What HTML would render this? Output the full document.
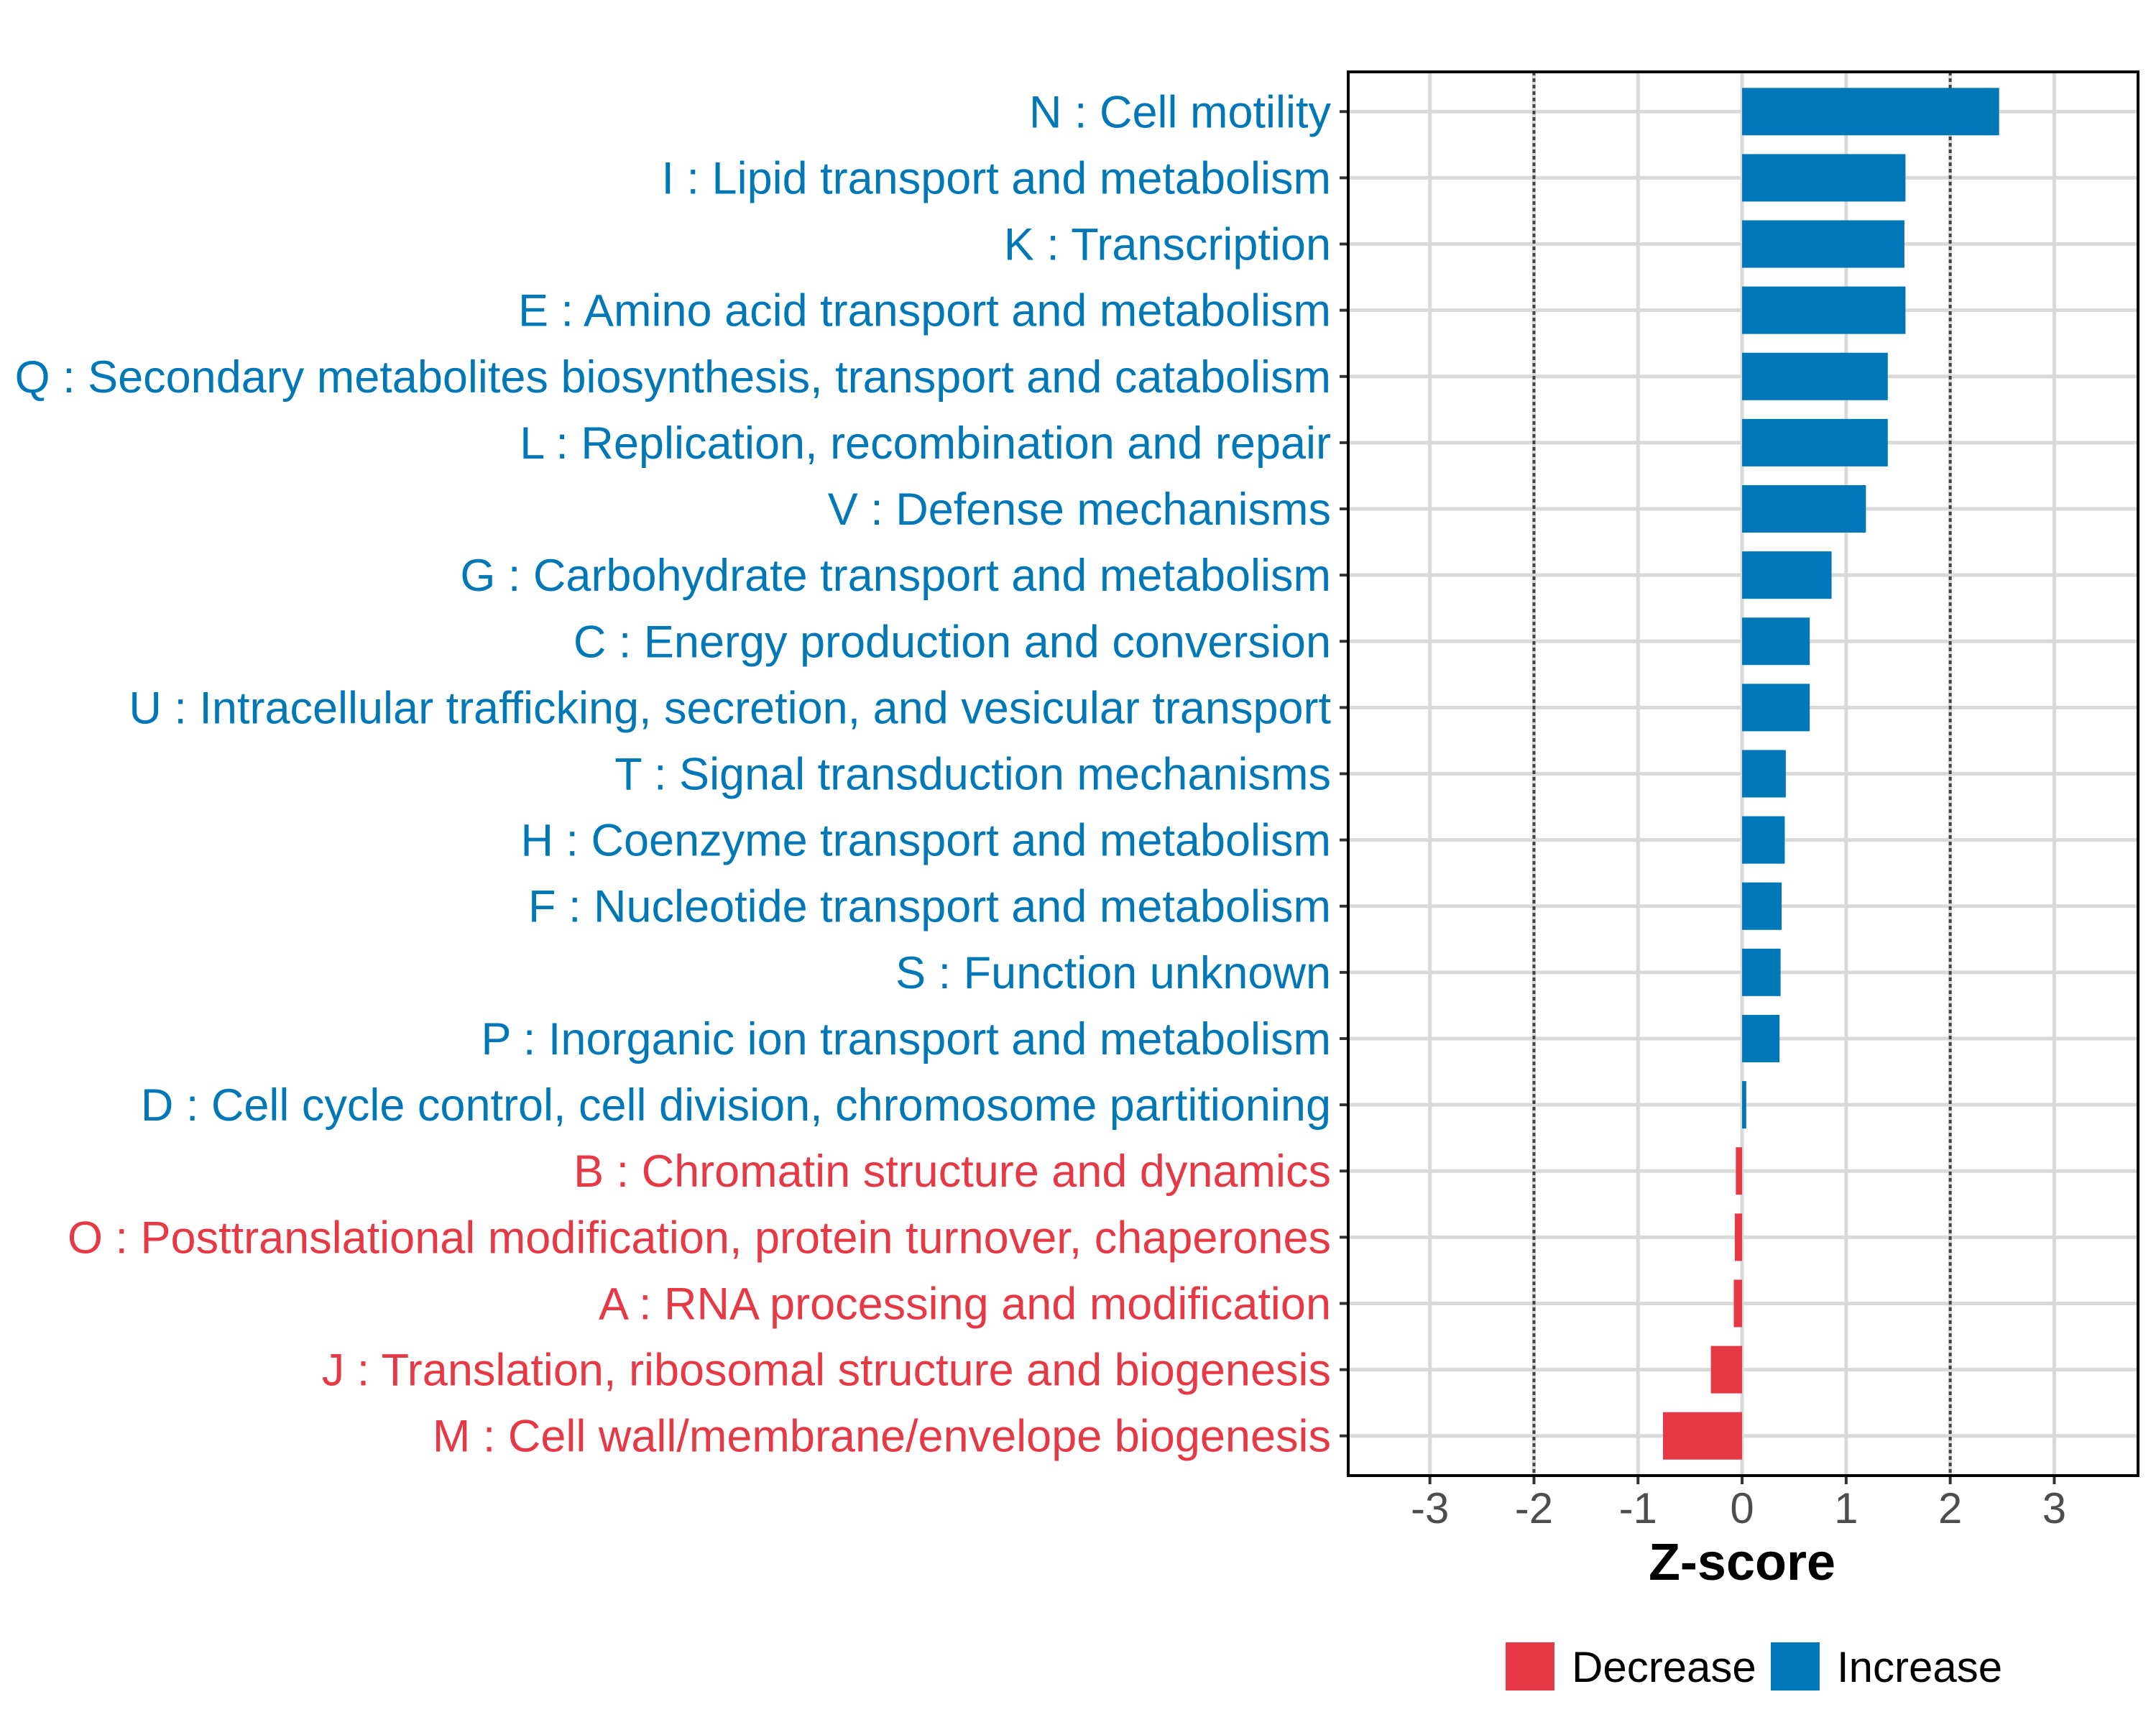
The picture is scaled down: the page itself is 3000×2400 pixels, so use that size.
<!DOCTYPE html>
<html><head><meta charset="utf-8"><style>
html,body{margin:0;padding:0;background:#fff}
svg{display:block}
</style></head><body>
<svg id="chart" width="3000" height="2400" xmlns="http://www.w3.org/2000/svg" font-family="Liberation Sans, Arial, sans-serif">
<rect width="3000" height="2400" fill="#fff"/>
<g id="grid"></g>
<g id="bars"></g>
<g id="ylabels"></g>
<g id="xaxis"></g>
<text x="2424" y="2198" text-anchor="middle" font-size="72" font-weight="bold" fill="#000">Z-score</text>
<g>
<g>
<rect x="2095" y="2285" width="68" height="67" fill="#E63946"/>
<text x="2187" y="2340" font-size="60" fill="#000">Decrease</text>
</g>
<g>
<rect x="2464" y="2285" width="68" height="67" fill="#0077B6"/>
<text x="2556" y="2340" font-size="60" fill="#000">Increase</text>
</g>
</g>
</svg>
<script>
const categories = ["N : Cell motility","I : Lipid transport and metabolism","K : Transcription","E : Amino acid transport and metabolism","Q : Secondary metabolites biosynthesis, transport and catabolism","L : Replication, recombination and repair","V : Defense mechanisms","G : Carbohydrate transport and metabolism","C : Energy production and conversion","U : Intracellular trafficking, secretion, and vesicular transport","T : Signal transduction mechanisms","H : Coenzyme transport and metabolism","F : Nucleotide transport and metabolism","S : Function unknown","P : Inorganic ion transport and metabolism","D : Cell cycle control, cell division, chromosome partitioning","B : Chromatin structure and dynamics","O : Posttranslational modification, protein turnover, chaperones","A : RNA processing and modification","J : Translation, ribosomal structure and biogenesis","M : Cell wall/membrane/envelope biogenesis"];
const zscores = [2.47,1.57,1.56,1.57,1.40,1.40,1.19,0.86,0.65,0.65,0.42,0.41,0.38,0.37,0.36,0.04,-0.06,-0.07,-0.08,-0.30,-0.76];
const xTicks = [-3,-2,-1,0,1,2,3];
const xTickLabels = ["-3","-2","-1","0","1","2","3"];
const thresholds = [-2,2];

const NS="http://www.w3.org/2000/svg";
const L=1876,R=2975,T=100,B=2053;
const xMin=-3.785,xMax=3.805;
const X=v=>L+(v-xMin)/(xMax-xMin)*(R-L);
const n=categories.length;
const rowH=(B-T)/(n+0.2);
function mk(tag,attrs,parent){const e=document.createElementNS(NS,tag);for(const k in attrs)e.setAttribute(k,attrs[k]);parent.appendChild(e);return e;}
const grid=document.getElementById('grid'),bars=document.getElementById('bars'),yl=document.getElementById('ylabels'),xa=document.getElementById('xaxis');
xTicks.forEach((t,i)=>{
  const g=mk('line',{x1:X(t),x2:X(t),y1:T,y2:B,stroke:'#D9D9D9','stroke-width':5},grid);
  
  
  const tk=mk('line',{x1:X(t),x2:X(t),y1:B,y2:B+12,stroke:'#333','stroke-width':4},xa);
  
  
  const tl=mk('text',{x:X(t),y:B+66,'text-anchor':'middle','font-size':60,fill:'#4D4D4D'},xa);
  tl.textContent=xTickLabels[i];
  
  
});
categories.forEach((c,i)=>{
  const y=T+(i+0.6)*rowH;
  const g=mk('line',{x1:L,x2:R,y1:y,y2:y,stroke:'#D9D9D9','stroke-width':5},grid);
  
  
  const v=zscores[i];
  const col=v<0?'#E63946':'#0077B6';
  const x0=Math.min(X(0),X(v)),w=Math.abs(X(v)-X(0));
  const b=mk('rect',{x:x0,y:y-33,width:w,height:66,fill:col},bars);
  
  
  const tk=mk('line',{x1:L-12,x2:L,y1:y,y2:y,stroke:'#333','stroke-width':4},yl);
  
  
  const t=mk('text',{x:1852,y:y+22,'text-anchor':'end','font-size':63,fill:col},yl);
  t.textContent=c;
  
  
});
thresholds.forEach(t=>{
  const d=mk('line',{x1:X(t),x2:X(t),y1:T,y2:B,stroke:'#444','stroke-width':4,'stroke-dasharray':'5 4'},grid);
  
  
});
const f=mk('rect',{x:L,y:T,width:R-L,height:B-T,fill:'none',stroke:'#000','stroke-width':4},document.getElementById('chart'));


</script>
</body></html>
